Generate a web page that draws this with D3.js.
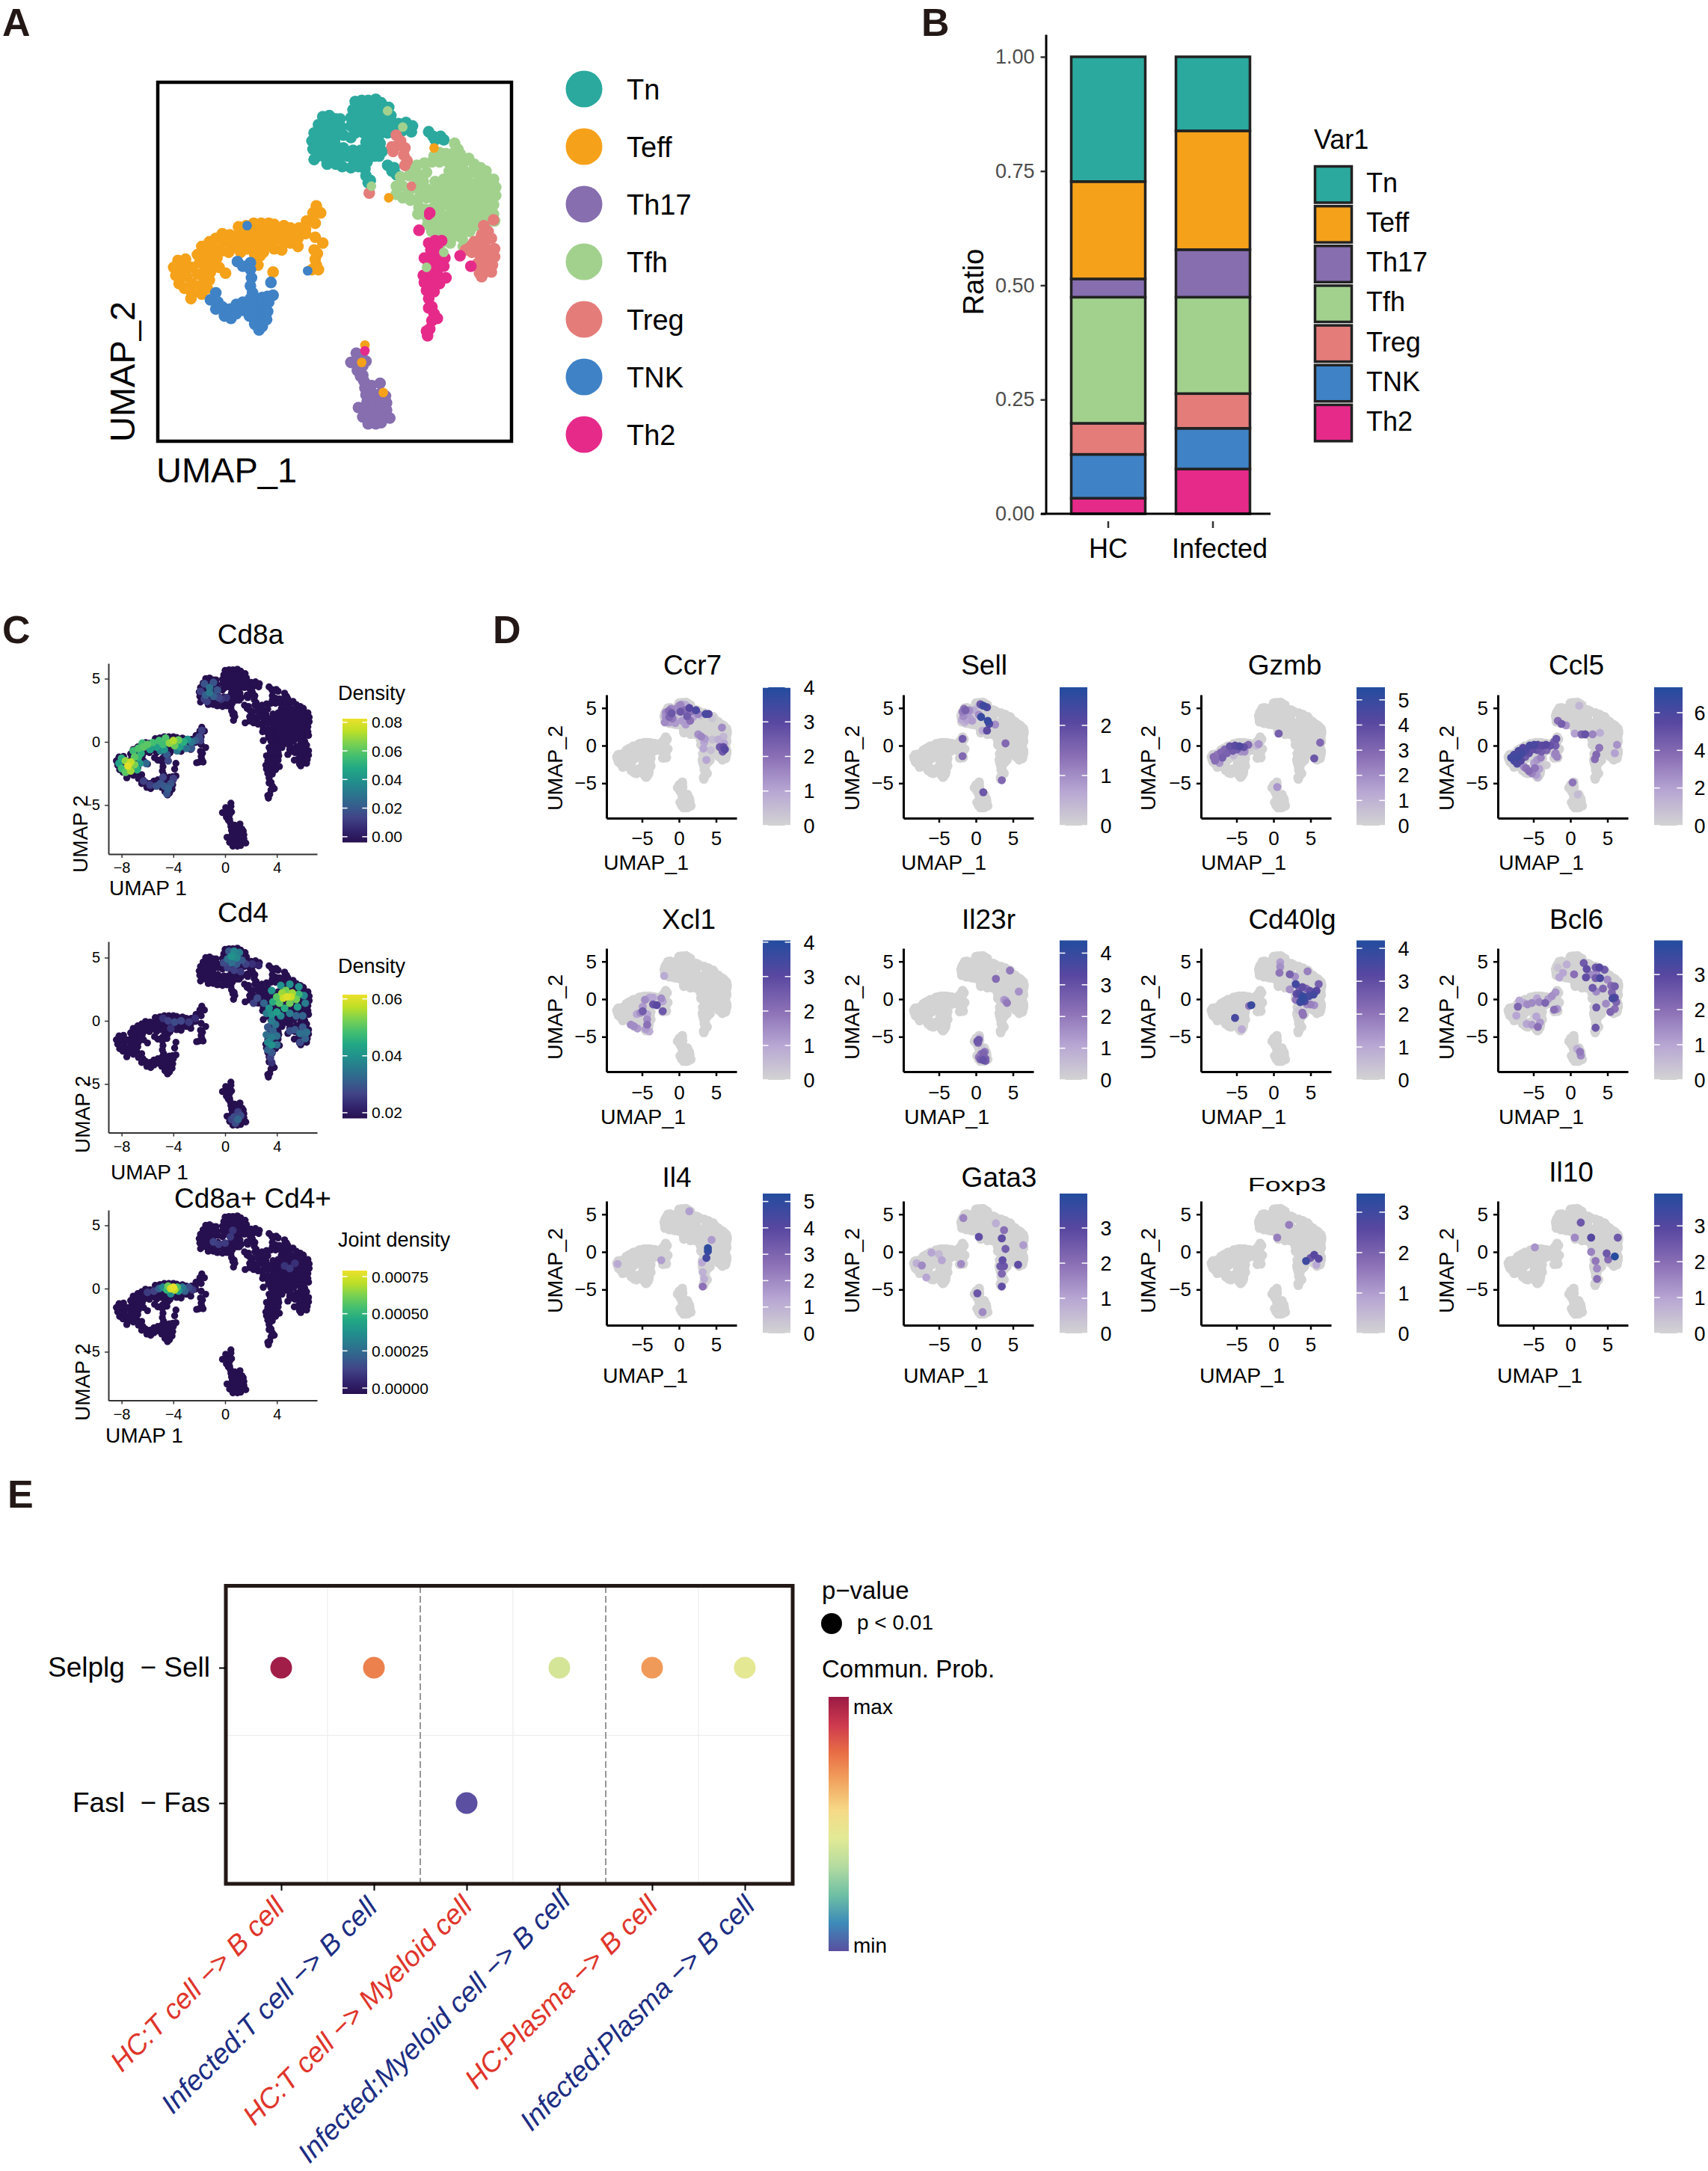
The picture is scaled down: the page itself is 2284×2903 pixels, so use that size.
<!DOCTYPE html>
<html><head><meta charset="utf-8">
<script src="https://cdnjs.cloudflare.com/ajax/libs/d3/7.8.5/d3.min.js"></script>
<style>html,body{margin:0;padding:0;background:#fff}svg{display:block}text{font-family:"Liberation Sans",Arial,sans-serif}</style>
</head><body><svg id="fig" width="2284" height="2903" viewBox="0 0 2284 2903"></svg>
<script>
// ---------- cell types ----------
const cellTypes=["Tn","Teff","Th17","Tfh","Treg","TNK","Th2"];
const cellColors=["#2BA99E","#F5A11A","#866EAF","#A2D18E","#E47C7A","#3F82C6","#E62A8A"];
// ---------- UMAP embedding ----------
const tnPts=[[-1.5,5],[-1.2,5.05],[-0.9,4.9],[-0.7,4.9],[-1.7,4.65],[-1.35,4.7],[-1,4.6],[-0.65,4.55],[-1.9,4.3],[-1.55,4.35],[-1.2,4.3],[-0.85,4.25],[-0.55,4.2],[-2,3.95],[-1.65,4],[-1.3,3.95],[-0.95,3.9],[-1.95,3.6],[-1.6,3.65],[-1.25,3.6],[-0.9,3.55],[-0.55,3.65],[-1.75,3.3],[-1.4,3.25],[-1.05,3.2],[-0.7,3.25],[-0.35,3.3],[-1.9,3.15],[-1.3,2.95],[-0.9,2.95],[-0.6,2.85],[0,5.65],[0.3,5.7],[0.6,5.7],[0.95,5.75],[1.2,5.6],[1.55,5.4],[-0.1,5.3],[0.25,5.35],[0.6,5.35],[0.95,5.35],[1.3,5.25],[1.65,5.05],[-0.2,4.95],[0.15,5],[0.5,5],[0.85,5],[1.2,4.9],[-0.2,4.6],[0.15,4.65],[0.5,4.65],[0.85,4.6],[1.2,4.55],[1.5,4.65],[0,4.3],[0.4,4.3],[0.75,4.25],[1.1,4.2],[-0.2,4.1],[0.5,3.9],[0.85,3.9],[1.15,3.85],[1.25,3.5],[0.95,3.55],[0.6,3.55],[0.25,3.55],[-0.1,3.55],[-0.1,3.2],[0.25,3.2],[0.55,3.2],[0.9,3.3],[1.1,3.3],[1.45,5],[1.7,4.75],[2,4.7],[2.35,4.75],[2.65,4.6],[2.6,4.35],[2.2,4.4],[1.85,4.35],[1.5,4.3],[3.4,4.35],[3.6,4.15],[3.95,4.15],[4.1,4],[3.7,4],[0.15,2.85],[0.45,2.75],[0.55,3.05],[0.5,2.45],[0.6,2.15],[0.7,2.25],[1.5,2.9],[1.7,2.65],[1.9,2.5],[1.8,2.8],[-0.2,2.8]];
const teffPts=[[-8.4,-1.5],[-8.2,-1.2],[-8.3,-1.85],[-8,-1.55],[-7.85,-1.15],[-8.15,-2.2],[-7.8,-1.9],[-7.55,-1.5],[-7.9,-2.4],[-7.55,-2.2],[-7.3,-1.8],[-7.2,-1.3],[-7.55,-2.65],[-7.6,-2.85],[-7.2,-2.3],[-7,-1.95],[-6.95,-1.5],[-6.85,-1.1],[-7.3,-0.95],[-7.1,-0.6],[-6.9,-0.85],[-6.75,-0.4],[-6.5,-0.7],[-6.45,-0.25],[-6.6,-1],[-6.15,-0.05],[-6.1,-0.4],[-6.2,-0.8],[-6.55,-1.35],[-6.4,-1.1],[-5.8,-0.1],[-5.75,-0.45],[-5.5,-0.65],[-5.85,-0.85],[-5.4,0.25],[-5.4,-0.1],[-5.4,-0.4],[-5.05,0.3],[-5.05,0],[-5.1,-0.3],[-4.7,0.4],[-4.7,0.1],[-4.7,-0.2],[-4.35,0.4],[-4.35,0.1],[-4.35,-0.25],[-4.45,-0.6],[-4,0.4],[-4,0.1],[-4,-0.2],[-4.05,-0.55],[-3.75,0.35],[-3.65,0.05],[-3.7,-0.3],[-3.75,-0.7],[-3.3,0.3],[-3.3,0],[-3.35,-0.35],[-3.4,-0.75],[-3,0.2],[-3,-0.1],[-3,-0.45],[-2.6,0.2],[-2.65,-0.25],[-2.65,-0.6],[-2.25,0.5],[-2.3,0.15],[-2.3,-0.05],[-2,0.55],[-1.95,0.85],[-1.6,0.85],[-1.8,1.15],[-1.85,0.4],[-1.85,-0.2],[-1.5,-0.45],[-1.9,-0.75],[-1.75,-0.9],[-1.85,-1.15],[-1.8,-1.4],[-2,-1.6],[-1.7,-1.6],[-6,-1.75],[-3.8,-1.7],[-4.4,-1],[-4.25,-0.85],[-4.5,-1.4],[-4.65,-0.95],[-5.3,-0.85],[-5,-0.7],[-4.75,-0.6],[-6.7,-1.7],[-6.75,-2.05],[-6.85,-2.4],[-7.1,-2.65],[-6.3,-1.5]];
const th17Pts=[[-0.2,-5.6],[0.05,-5.2],[0.3,-5.3],[0.5,-5.55],[0.05,-5.6],[0.35,-5.75],[0.1,-5.95],[0.25,-6.2],[0.35,-6.15],[0.4,-6.4],[0.45,-6.7],[0.75,-6.6],[0.5,-7],[0.8,-6.95],[1.15,-6.5],[1.15,-6.95],[1.4,-7.05],[0.55,-7.3],[0.85,-7.3],[1.15,-7.3],[1.45,-7.35],[0.15,-7.55],[0.45,-7.65],[0.8,-7.65],[1.1,-7.65],[1.45,-7.65],[0.35,-7.95],[0.65,-8],[1,-8],[1.35,-8],[1.6,-8],[0.6,-8.25],[0.95,-8.25],[1.2,-8.2]];
const tfhPts=[[2.5,2.8],[2.85,2.9],[3.2,3],[3.55,3.05],[3.9,3.05],[4.3,3.05],[4.65,3.05],[5,3],[5.25,3.2],[5.5,2.95],[5.8,2.8],[6.05,2.65],[2.1,2.4],[2.5,2.45],[2.9,2.5],[3.3,2.6],[4.35,2.65],[4.7,2.65],[5.05,2.65],[5.4,2.6],[5.75,2.45],[6.1,2.35],[6.4,2.3],[1.9,2],[2.2,2],[2.5,1.8],[2.85,2.1],[3.15,2.2],[3.7,2.2],[4.1,2.3],[4.5,2.3],[4.85,2.3],[5.2,2.25],[5.55,2.1],[5.9,2.05],[6.25,2],[6.5,1.95],[1.9,1.65],[2.2,1.5],[2.55,1.4],[2.9,1.45],[3,1.8],[3.35,1.85],[3.75,1.85],[4.1,1.95],[4.45,1.95],[4.8,1.95],[5.15,1.85],[5.5,1.75],[5.85,1.7],[6.2,1.65],[6.5,1.6],[3.3,1.5],[3.65,1.45],[4,1.5],[4.35,1.55],[4.7,1.6],[5.05,1.5],[5.4,1.4],[5.75,1.35],[6.1,1.3],[6.4,1.2],[2.95,1.1],[3.25,1],[3.6,1.05],[3.95,1.1],[4.3,1.2],[4.65,1.2],[5,1.15],[5.45,1.05],[5.8,0.95],[6.15,0.95],[6.4,0.8],[2.9,0.8],[3.3,0.7],[3.6,0.7],[4,0.75],[4.4,0.8],[4.75,0.85],[5.1,0.85],[5.5,0.7],[5.85,0.6],[6.2,0.6],[6.45,0.5],[3.35,0.35],[3.7,0.4],[4.1,0.45],[4.5,0.5],[4.85,0.5],[5.2,0.45],[5.55,0.3],[6.05,0.3],[3.55,0.05],[3.9,0.1],[4.25,0.15],[4.6,0.15],[4.95,0.1],[5.3,0.05],[3.85,-0.2],[4.2,-0.2],[4.55,-0.15],[4.9,-0.2],[4.05,-0.4],[4.4,-0.45],[5,-0.6],[5.2,-0.7],[3.9,3.45],[4.2,3.4],[4.5,3.4],[4.75,3.6],[4.6,3.85],[4.85,3.4],[3.65,3.3]];
const tregPts=[[6.4,0.55],[5.95,0.3],[6.15,0.05],[5.85,-0.1],[5.5,-0.4],[5.1,-0.75],[5.3,-0.6],[5.7,-0.35],[6,-0.3],[6.3,-0.25],[6.45,-0.7],[6.1,-0.7],[5.75,-0.7],[5.4,-0.85],[6.45,-1.05],[6.15,-1.05],[5.8,-1.1],[6.35,-1.4],[6,-1.4],[5.65,-1.35],[6.3,-1.7],[6,-1.7],[5.75,-1.75],[5.85,-1.9],[1.9,4.2],[2.1,3.95],[1.95,3.75],[2.3,3.65],[1.75,3.5],[2.25,3.35],[2.4,3.1],[2.3,2.9],[1.7,3.7],[0.65,1.7]];
const tnkPts=[[-5.45,-1.25],[-5.2,-1.45],[-4.85,-1.3],[-4.85,-1.6],[-4.8,-1.95],[-4.85,-2.3],[-4.75,-2.6],[-3.9,-2.15],[-3.8,-2.7],[-4.05,-2.75],[-4.3,-2.8],[-4.55,-2.85],[-4.85,-2.85],[-6.45,-2.6],[-6.7,-2.9],[-6.35,-3],[-6.45,-3.3],[-6.15,-3.2],[-6.05,-3.6],[-5.8,-3.3],[-5.75,-3.7],[-5.5,-3.1],[-5.5,-3.5],[-5.2,-3],[-5.2,-3.35],[-4.95,-3.2],[-4.9,-3.6],[-4.6,-3.2],[-4.3,-3.1],[-4,-3],[-4.6,-3.6],[-4.3,-3.5],[-4.05,-3.4],[-4.65,-3.95],[-4.35,-3.9],[-4.1,-3.75],[-4.45,-4.2],[-4.3,-4.05]];
const th2Pts=[[2.95,0.1],[3.45,0.85],[3.4,-0.45],[3.7,-0.35],[4,-0.35],[3.5,-0.75],[3.8,-0.7],[3.2,-1.1],[3.55,-1.05],[3.9,-1.05],[4.15,-1.1],[3.4,-1.4],[3.75,-1.4],[4.1,-1.45],[3.15,-1.85],[3.45,-1.75],[3.8,-1.8],[4.2,-1.95],[3.2,-2.15],[3.55,-2.1],[3.9,-2.2],[3.3,-2.5],[3.65,-2.55],[3.4,-2.85],[3.55,-3.2],[3.4,-3.25],[3.65,-3.5],[3.8,-3.7],[3.55,-3.8],[3.45,-4.15],[3.35,-4.45],[3.3,-4.25],[4.85,-1],[5.35,-1.45]];
const strayCells=[["Tfh",1.5,5.25],["Tfh",2.2,4.55],["Tfh",0.75,2],["Tfh",3.3,-1.5],["Tfh",4.1,-0.85],["Tfh",5,-0.3],["Teff",3.65,3.65],["Teff",1.55,1.5],["Teff",0.45,-4.85],["Teff",0.3,-5.6],["Teff",1.3,-6.9],["Th2",0.45,-5.1],["TNK",-5,0.3],["TNK",-2.2,-1.65],["Th2",3.4,0.75],["Treg",2.6,2.0]];
const clusterPts=[tnPts,teffPts,th17Pts,tfhPts,tregPts,tnkPts,th2Pts];
const allPts=clusterPts.flat().concat(strayCells.map(d=>[d[1],d[2]]));
// ---------- panel B ----------
const groups=["HC","Infected"];
const hcRatio=[0.273,0.213,0.040,0.276,0.068,0.096,0.034];
const infectedRatio=[0.162,0.260,0.104,0.211,0.076,0.089,0.098];
const ratioTicks=[0,0.25,0.5,0.75,1];
// ---------- panel C density overlays [u,v,density] ----------
const cd8aDensity=[[-8.2,-1.7,.045],[-8,-1.3,.05],[-8,-2.1,.055],[-7.7,-1.5,.068],[-7.7,-2.4,.06],[-7.5,-1.9,.08],[-7.3,-1.6,.075],[-7.3,-2.3,.07],[-7,-1.8,.065],[-7,-1.2,.06],[-7.1,-.7,.055],[-6.7,-1.2,.052],[-6.7,-.5,.058],[-6.5,-.9,.05],[-6.3,-.4,.06],[-6.4,-.1,.055],[-6,-.2,.06],[-5.8,-.6,.045],[-5.6,-.05,.056],[-5.3,-.4,.045],[-5.1,.1,.056],[-4.8,-.2,.055],[-4.6,.3,.058],[-4.3,-.1,.068],[-4,.1,.072],[-3.9,-.3,.062],[-3.6,.15,.062],[-3.5,-.4,.045],[-3.2,0,.05],[-2.9,.2,.04],[-2.6,0,.03],[-2.3,.1,.022],[-2,.4,.015],[-1.8,.9,.012],[-6.1,-1.7,.025],[-4.5,-1,.02],[-4.4,-1.5,.015],[-6.3,-3.1,.012],[-5.8,-3.4,.012],[-5.3,-3.5,.018],[-5,-3.3,.018],[-4.7,-3.5,.02],[-4.4,-3.7,.022],[-4.2,-3.3,.018],[-4.5,-4.1,.018],[-4.8,-2.8,.014],[-4,-2.9,.012],[-1.9,4,.012],[-1.6,4.6,.018],[-1.5,3.7,.022],[-1.2,4.3,.028],[-1.2,3.9,.03],[-.9,3.6,.022],[-.9,4.7,.018],[-.6,4.1,.018],[-.5,3.5,.014],[-1.4,3.2,.012],[-1.6,3.4,.012],[-.3,3.4,.01],[.1,3.5,.008],[-6.8,-2.2,.05],[-6.6,-1.7,.042],[-5,-.7,.035],[-4.7,-.6,.04],[-3.7,-.7,.032],[-3,-.5,.028],[-2.6,-.5,.02],[-1.9,.1,.012]];
const cd4Density=[[4.8,1.9,.06],[4.5,1.8,.058],[5.1,1.9,.058],[4.4,2.2,.055],[5.2,2.2,.055],[4.7,2.4,.052],[5.5,1.7,.052],[4,1.9,.05],[4.2,1.4,.05],[5,1.4,.052],[5.7,2.1,.047],[3.7,1.5,.045],[4.6,1,.045],[3.6,2.4,.04],[4.3,2.8,.04],[5,2.9,.04],[5.7,2.7,.04],[6.1,2,.038],[6.2,1.4,.036],[5.6,1.1,.042],[3.4,1,.04],[3.2,.6,.036],[3.6,.5,.04],[4,.7,.042],[4.3,.4,.038],[5,.6,.036],[5.5,.4,.032],[6,.4,.032],[3,1.4,.032],[2.5,1.8,.028],[2.2,1.4,.026],[3.6,0,.036],[3.9,-.3,.034],[3.3,-.5,.03],[3.7,-.8,.032],[3.2,-1.1,.034],[3.6,-1.3,.036],[4,-1.2,.034],[3.3,-1.7,.038],[3.6,-1.9,.04],[4,-1.9,.034],[3.3,-2.3,.032],[3.6,-2.5,.03],[3.5,-2.9,.026],[3.6,-3.3,.024],[6,-.5,.03],[6.3,-.9,.034],[5.8,-1,.034],[6.2,-1.4,.032],[5.8,-1.7,.028],[5.4,-.7,.03],[5,-.8,.028],[.3,5.5,.03],[.7,5.5,.038],[1.1,5.4,.036],[.5,5.1,.04],[.9,5,.038],[.2,4.9,.034],[1.3,4.8,.03],[-.1,4.6,.028],[.5,4.6,.034],[.9,4.5,.03],[1.6,4.5,.026],[2.1,4.5,.024],[.2,4.2,.026],[.7,4,.026],[1.2,3.9,.025],[2.6,4.4,.022],[.7,-7.6,.028],[1,-7.8,.032],[1.2,-7.5,.028],[.8,-8.1,.028],[.5,-7.8,.026],[1,-7.2,.026],[-4.4,0,.026],[-3.9,-.1,.028],[-3.4,0,.027],[-4.8,.2,.024],[-2.8,-.1,.025],[-4.2,-.6,.024],[-2.3,.2,.023]];
const jointDensity=[[-4.2,0,.00075],[-4,.1,.00078],[-3.9,-.1,.0007],[-4.4,.2,.0006],[-4.5,-.1,.0005],[-3.7,.1,.00055],[-3.6,-.2,.0004],[-4.8,.1,.00035],[-4.2,-.4,.00035],[-3.3,.1,.0003],[-3.1,-.2,.00022],[-5.1,0,.00022],[-2.8,.1,.00015],[-2.5,-.1,.0001],[-5.5,-.2,.00012],[-6,-.3,.0001],[-.9,3.7,.00012],[-.5,3.5,.0001],[0,3.6,.0001],[.4,4.1,.00009],[.6,4.6,.00008],[4.6,1.8,.00008],[5,1.6,.00009],[5.4,2,.00007]];
const densityTitles=["Cd8a","Cd4","Cd8a+ Cd4+"];
const densityLegend=["Density","Density","Joint density"];
const densityMax=[0.0825,0.0615,0.00079];
const densityMin=[-0.004,0.018,-0.00004];
const densityTicks=[[0,.02,.04,.06,.08],[.02,.04,.06],[0,.00025,.0005,.00075]];
const densityFormat=[".2f",".2f",".5f"];
// ---------- panel D expression overlays [u,v,value] ----------
const genes=["Ccr7","Sell","Gzmb","Ccl5","Xcl1","Il23r","Cd40lg","Bcl6","Il4","Gata3","Foxp3","Il10"];
const geneMax=[4.0,2.76,5.5,7.35,4.05,4.4,4.24,3.97,5.3,3.98,3.46,3.9];
const geneTicks=[[0,1,2,3,4],[0,1,2],[0,1,2,3,4,5],[0,2,4,6],[0,1,2,3,4],[0,1,2,3,4],[0,1,2,3,4],[0,1,2,3],[0,1,2,3,4,5],[0,1,2,3],[0,1,2,3],[0,1,2,3]];
const ccr7Expr=[[-1.8,4.4,1.5],[-1.4,4.6,2],[-1,4.3,2.6],[-1.7,3.7,1.5],[-1.3,3.8,2.2],[-.9,3.6,1.8],[-1.9,3.1,1.5],[-1.3,3.1,1.2],[-.5,3,1.2],[-.4,4.9,1.5],[0,5.3,1.2],[.5,5.5,.8],[.2,4.5,2.6],[.8,4.7,2],[1.4,5,3],[1.7,4.6,2],[2.3,4.7,3.2],[2.6,4.2,1.6],[3.6,4.2,3.3],[4,4.2,3],[1.1,3.9,2.5],[1.5,3.3,2],[.4,3.3,1.2],[.9,2.8,1.2],[4.5,3.6,.3],[5.8,2.4,1.5],[2.6,1.5,1.4],[3,1.2,1.6],[3.5,.9,1.2],[4.5,.8,.5],[5.5,-.2,2.5],[6,-.2,2.8],[6.2,-.5,3],[5.9,-.8,2.5],[3.7,-1.9,1],[3.3,-.4,1],[-1.8,4,.4],[-.7,4.1,.3],[.5,4,.3],[-.3,4.4,.2],[.7,3.5,.2],[-1.5,4.2,1.3],[-1.9,3.9,1],[-1.1,4.9,1.6],[-.7,4.5,1.2],[-1,3.2,.9],[-.6,3.5,.8],[.2,5.4,1.6],[.9,5.4,.9],[1.2,4.3,1.5],[1.9,3.8,1.1],[2.9,4,.4],[5.3,.8,.8],[6,1.2,.6],[6.1,.3,1],[4.3,-.6,.5],[3.4,.4,1]];
const sellExpr=[[-1.8,4.5,1.2],[-1.4,4.7,1.6],[-1.1,4.2,.8],[-1.7,3.9,1],[-1.2,3.4,.7],[-.5,3.3,.8],[-.3,4.7,.6],[1,5.3,2.4],[1.5,5.1,2.2],[.7,3.8,2.5],[.4,4.1,1],[1.6,3.3,2.5],[.3,5.2,.3],[1.8,2.9,2.2],[2.6,2.8,1],[4,.3,1.5],[-1.8,.9,1.7],[-1.8,-1.4,1.5],[1,-6.2,1.8],[3.5,-4.6,1.5],[.9,2,.6],[1.5,2,2],[-1.6,4.9,1.3],[-1.9,3.4,.6],[-1.5,3.1,.5],[-.9,4.7,1],[-.8,3.7,.7],[.6,5.5,1.8]];
const gzmbExpr=[[-8.1,-1.5,2.8],[-7.9,-2,2.8],[-7.6,-1.2,2.5],[-7.3,-2.3,1.8],[-7.1,-.9,3],[-6.9,-1.6,3.3],[-6.6,-.5,3],[-6.3,-1,3.2],[-5.9,-.1,3.7],[-5.8,-.9,.4],[-5.5,-.7,3.4],[-5.4,-1.3,.8],[-5.2,0,4],[-4.9,-.5,3.4],[-4.6,-.1,4.3],[-4.4,-.8,1.8],[-4,-.2,3.8],[-3.9,-.8,2],[-3.4,.1,3],[-3.1,-.2,.3],[-2,.2,1.8],[-2.3,0,.8],[.7,1.6,3.3],[.5,-5.5,1.8],[5.5,-1.7,3.6],[6.3,.4,3]];
const ccl5Expr=[[-8,-1.6,6.2],[-7.6,-1.2,6],[-7.6,-2,6],[-7.2,-2.4,5.8],[-7.1,-1.5,6.3],[-7,-.7,6],[-6.7,-2,5.7],[-6.5,-1,6.2],[-6.4,-.3,5.5],[-6.1,-1.5,4.6],[-6,-.6,5.8],[-5.6,-1,5.2],[-5.5,0,6],[-5.1,-.5,5.2],[-4.9,.1,6],[-4.5,-.6,4.8],[-4.4,.1,5.4],[-3.9,-.8,4.4],[-3.8,0,5.4],[-3.3,.1,5.5],[-3.2,-.6,4],[-2.7,0,5],[-2.2,.5,4.4],[-1.9,.9,5],[-2,0,4.5],[-2,-1,3],[-1.8,-1.5,3],[-4,-1.6,3],[-4.5,-1.9,2.4],[-4.8,-3,3.5],[-4.2,-3.1,2],[-6,-3,3.6],[-5.6,-3.4,3.8],[-5.2,-3.7,3],[-4.6,-3.9,2.2],[-4.4,-4.2,1],[-6.3,-2.8,2.6],[-4.9,-2.3,2],[-1.7,3.3,3.8],[-1.2,2.9,4.4],[-.6,2.7,2.5],[.6,1.6,2],[1.5,1.5,4.2],[2,1.5,5],[3,1.5,3],[4,1.7,1.5],[3.9,-.3,3.5],[3.5,-1.2,4],[3.3,-1.8,3.8],[6,-1,2],[6.3,.1,2.5],[.3,-4.9,3.5],[1.2,5.3,1.2],[1,-6.5,1],[-3.8,-1.3,.3],[-3.2,-2.6,.2],[-4.1,-2.5,.4],[-2.1,-1.2,2.5]];
const xcl1Expr=[[-6.5,-3.4,1.5],[-6.1,-3.6,1.5],[-5.6,-3.9,1.2],[-5.7,-2,1],[-4.6,-.1,1.5],[-4,.2,1],[-3.5,.2,1],[-3.5,-.7,2.7],[-3,-.8,3],[-2.2,-1.6,2.6],[-2.4,.1,1.5],[-2.2,-.3,1],[-4.9,-1.6,2.5],[-5.2,-1.8,1.5],[-4.3,-3.4,2],[-4.5,-4,1.2],[-4,-4.3,.8],[-4.3,-2.7,1.5],[-2,3.1,.9],[-4.9,-1,1.2],[-4.3,-2,1]];
const il23rExpr=[[.2,-5.6,2.8],[.4,-5.4,2.7],[.3,-5.8,2.4],[.5,-5.1,.5],[.7,-7.3,2],[1,-7.2,2.5],[1.2,-7,2],[.6,-8,2.6],[1,-8.1,3],[1.3,-7.9,2.5],[.8,-7.8,2],[.4,-7.7,2],[1.3,-8.2,2.6],[.8,-6.5,.3],[2.7,2.7,2.3],[4.6,3.8,2],[4,-.2,1.5],[4.2,-.5,2],[5.8,1,1.5],[3.8,-.1,1.2]];
const cd40lgExpr=[[.8,3.5,2],[.9,4.3,1.5],[.9,4.9,1.2],[2.2,3.3,2.5],[2.9,3,1.5],[4.6,3.7,1.8],[3,2,3.6],[3.5,1.5,2.6],[3.9,1.6,3],[4.4,1.4,2.2],[4.9,1.1,3],[3.1,.7,3],[3.5,.7,3.3],[3.9,.4,3.7],[4.3,.3,3.4],[4.8,.4,3.5],[5.4,.6,3.6],[5.8,1.1,3.2],[3.8,-.2,3.7],[4.2,-.3,3.4],[3.6,-.4,3.6],[3.4,-1.5,.3],[3.9,-1.8,2],[5,-.7,1.8],[5.5,-.8,1.5],[4.5,-.7,1.5],[4,-2.1,2],[3,-.1,2],[2.2,1.3,1.5],[-3,-.8,3.8],[-5.2,-2.5,3.5],[-3.3,-.9,2],[4,.1,3.9],[6.1,2,2.5],[-4.3,-4,1]];
const bcl6Expr=[[1.8,4.8,2.5],[2.2,4,2.8],[3.5,3.5,1.5],[2.1,2.9,2.8],[3.4,4.2,2.5],[3.9,4.2,3],[4.6,3.9,2.5],[4,2.8,3.2],[3.4,2.8,2.4],[2.7,3.3,1.5],[5,2.6,1.5],[.5,3.3,2],[-1,3.5,1],[-1.5,2.9,1],[3,1.5,2.5],[3.5,1,1.5],[4.4,1.4,2.2],[5.5,1.8,2],[6,1.7,2.4],[5.6,.9,2.2],[6,.2,3],[5.7,.1,3.3],[6.2,-.4,2.2],[4.8,-.6,1.5],[3.5,-1.1,2.5],[3.4,-3.8,2.6],[6,-1.3,2],[5.4,-1.7,2.2],[1.3,-7,1.8],[1.4,-7.5,1.5],[.9,-6.6,.8],[-7.1,-1,2.2],[-6.9,-.2,1],[-6.3,-.5,1],[-7.3,-2.2,1],[-5.8,-.7,1.5],[-5.2,-.5,1.5],[-4.5,.1,1],[-4.2,-.4,1.5],[-3.4,-.5,2.2],[-3,0,1.2],[-2.5,.4,1.4],[-2.2,-1.4,2],[-2,.9,1.3],[-1.8,-1.3,1.3],[-5.9,-3.3,1],[-5.2,-3.4,1.2],[-4.4,-3.7,2],[-4.6,-2.3,1],[-4.1,-3.1,1.2],[-1.7,4.2,.4],[-.5,4.6,.8]];
const il4Expr=[[4.4,1.6,1.6],[3.1,-1.4,1.2],[3.2,-2.7,1],[3.4,-3.6,1.1],[3.2,-4.6,2.6],[1.4,5.4,1.5],[-8.3,-1.6,1.2],[-2.4,-1.1,1.5],[3.7,-.8,4.5],[3.9,.1,4.8],[3.9,.5,5]];
const gata3Expr=[[-1.7,4.5,1.6],[.4,2,2.8],[3.8,2.9,2],[3.5,1.8,2.8],[4,.4,2.4],[6.4,.9,1.2],[3.6,-1.1,2.8],[3.8,-1.9,2.6],[5.7,-1.7,2.8],[3.5,-2.9,2.2],[3.5,-4.6,2.8],[.2,-5.5,2.6],[.9,-8,1.5],[-7.3,-1.8,1.5],[-6,-.1,1],[-6.7,-3.4,1],[-2,-1.6,1.5],[-4.6,-1.1,1],[2.7,3.8,.8],[3.3,-1.9,2.5],[-8,-1.5,.8],[-5,-.3,.6]];
const foxp3Expr=[[.5,1.9,1.5],[2.1,3.6,1.5],[5.8,-1.7,.8],[5.5,-.4,2.6],[6.1,-.9,2.5],[5,-.8,2.2],[4.4,-1.2,3]];
const il10Expr=[[.6,1.9,1.5],[2.8,1.9,3],[5.1,-1,2],[3.4,-1.2,1.8],[2.8,0,1.6],[4.9,-.2,2.5],[1.4,3.9,2.5],[6.4,1.9,2.5],[3.6,-2.2,1.5],[3.6,-3.6,2],[-4.8,.6,1.3],[6,-.6,3.85]];
const geneExpr=[ccr7Expr,sellExpr,gzmbExpr,ccl5Expr,xcl1Expr,il23rExpr,cd40lgExpr,bcl6Expr,il4Expr,gata3Expr,foxp3Expr,il10Expr];
// ---------- panel E ----------
const pairNames=["HC:T cell \u2212> B cell","Infected:T cell \u2212> B cell","HC:T cell \u2212> Myeloid cell","Infected:Myeloid cell \u2212> B cell","HC:Plasma \u2212> B cell","Infected:Plasma \u2212> B cell"];
const pairCondition=["HC","Infected","HC","Infected","HC","Infected"];
const lrNames=["Selplg  \u2212 Sell","Fasl  \u2212 Fas"];
const commRow=[0,0,1,0,0,0];
const commProb=[0.99,0.74,0.0,0.41,0.69,0.46];
const commRamp=["#5A4FA0","#3C8BB8","#6FC0A4","#B4DBA0","#E2EA95","#F6D987","#F2A560","#E96F45","#CE3A4E","#9B1B46"];

// ---------- helpers ----------
const svg=d3.select("#fig");
const FONT='"Liberation Sans",Arial,sans-serif';
const txt=(x,y,s,size,o={})=>{
  const t=svg.append("text").attr("y",0).attr("dy",".36em").text(s)
    .attr("font-size",size).attr("fill",o.fill||"#000").attr("text-anchor",o.anchor||"start");
  if(o.weight)t.attr("font-weight",o.weight);
  if(o.italic)t.attr("font-style","italic");
  t.attr("transform",`translate(${x},${y})`+(o.rot?` rotate(${o.rot})`:"")+(o.sx?` scale(${o.sx},1)`:""));
  return t;
};
function umapScales(left,right,top,bottom,u0,v0,pu,pv){
  return {x:d3.scaleLinear().domain([(left-u0)/pu,(right-u0)/pu]).range([left,right]),
          y:d3.scaleLinear().domain([(v0-bottom)/pv,(v0-top)/pv]).range([bottom,top])};
}
function drawAxes(sc,o){
  const g=svg.append("g");
  const xa=g.append("g").attr("transform",`translate(0,${sc.y.range()[0]})`)
    .call(d3.axisBottom(sc.x).tickValues(o.xt).tickSize(o.tick).tickPadding(o.padX).tickSizeOuter(0));
  const ya=g.append("g").attr("transform",`translate(${sc.x.range()[0]},0)`)
    .call(d3.axisLeft(sc.y).tickValues(o.yt).tickSize(o.tick).tickPadding(o.padY).tickSizeOuter(0));
  [xa,ya].forEach(a=>{
    a.attr("font-family",FONT).attr("font-size",o.font);
    a.select(".domain").attr("stroke",o.color).attr("stroke-width",o.w);
    a.selectAll(".tick line").attr("stroke",o.color).attr("stroke-width",Math.max(1.5,o.w-.5));
    a.selectAll("text").attr("fill","#000");
  });
}
function dots(data,sc,r,fill){
  svg.append("g").selectAll("circle").data(data).join("circle")
    .attr("cx",d=>sc.x(d[0])).attr("cy",d=>sc.y(d[1])).attr("r",r).attr("fill",fill);
}
function gradient(id,stops){
  const defs=svg.select("defs").empty()?svg.append("defs"):svg.select("defs");
  const g=defs.append("linearGradient").attr("id",id).attr("x1",0).attr("x2",0).attr("y1",1).attr("y2",0);
  stops.forEach((c,i)=>g.append("stop").attr("offset",i/(stops.length-1)).attr("stop-color",c));
}
function colorBar(x0,x1,scale,fillId,ticks,fmt,labelX,font,anchor){
  const [b,t]=scale.range();
  svg.append("rect").attr("x",x0).attr("width",x1-x0).attr("y",t).attr("height",b-t).attr("fill",`url(#${fillId})`);
  const w=(x1-x0)/5, g=svg.append("g");
  ticks.forEach(v=>{
    [[x0,x0+w],[x1-w,x1]].forEach(p=>g.append("line").attr("x1",p[0]).attr("x2",p[1]).attr("y1",scale(v)).attr("y2",scale(v)).attr("stroke","#fff").attr("stroke-width",1.5));
    txt(labelX,scale(v),fmt(v),font,{anchor:anchor||"start"});
  });
}
// ---------- panel letters ----------
[["A",3,29],["B",1232,29],["C",3,841],["D",659,841],["E",10,1997]].forEach(d=>txt(d[1],d[2],d[0],52,{weight:"bold",fill:"#231815"}));

// ---------- panel A ----------
(function(){
  const sc=umapScales(211,684,110,590,475,311,28.9,31);
  svg.append("rect").attr("x",211).attr("y",110).attr("width",473).attr("height",480).attr("fill","none").attr("stroke","#000").attr("stroke-width",4.5);
  clusterPts.forEach((pts,i)=>dots(pts,sc,7.8,cellColors[i]));
  svg.append("g").selectAll("circle").data(strayCells).join("circle")
    .attr("cx",d=>sc.x(d[1])).attr("cy",d=>sc.y(d[2])).attr("r",6.4).attr("fill",d=>cellColors[cellTypes.indexOf(d[0])]);
  const ly=d3.scalePoint().domain(cellTypes).range([119,581]);
  svg.append("g").selectAll("circle").data(cellTypes).join("circle").attr("cx",781).attr("cy",d=>ly(d)).attr("r",24.5).attr("fill",(d,i)=>cellColors[i]);
  cellTypes.forEach(d=>txt(838,ly(d),d,38));
  txt(209,628,"UMAP_1",47);
  txt(163,497,"UMAP_2",47,{rot:-90,anchor:"middle"});
})();

// ---------- panel B ----------
(function(){
  const rows=groups.map((g,i)=>{const r={group:g};cellTypes.forEach((c,j)=>r[c]=(i?infectedRatio:hcRatio)[j]);return r;});
  const keys=cellTypes.slice().reverse();
  const series=d3.stack().keys(keys)(rows);
  const x=d3.scaleBand().domain(groups).range([1412,1692]).paddingInner(.293).paddingOuter(.1465);
  const y=d3.scaleLinear().domain([0,1.049]).range([687,46]);
  series.forEach(s=>{
    svg.append("g").selectAll("rect").data(s).join("rect")
      .attr("x",d=>x(d.data.group)).attr("width",x.bandwidth())
      .attr("y",d=>y(d[1])).attr("height",d=>y(d[0])-y(d[1]))
      .attr("fill",cellColors[cellTypes.indexOf(s.key)]).attr("stroke","#222").attr("stroke-width",3.5);
  });
  const ya=svg.append("g").attr("transform","translate(1398.5,0)").call(d3.axisLeft(y).tickValues(ratioTicks).tickFormat(d3.format(".2f")).tickSize(7).tickPadding(8).tickSizeOuter(0));
  ya.attr("font-family",FONT).attr("font-size",27);
  ya.selectAll("text").attr("fill","#4d4d4d");
  ya.select(".domain").attr("stroke","#000").attr("stroke-width",3);
  ya.selectAll(".tick line").attr("stroke","#333").attr("stroke-width",2.5);
  svg.append("line").attr("x1",1392).attr("x2",1699).attr("y1",687).attr("y2",687).attr("stroke","#000").attr("stroke-width",3);
  const xa=svg.append("g").attr("transform","translate(0,687)").call(d3.axisBottom(x).tickSize(19).tickPadding(0).tickSizeOuter(0));
  xa.select(".domain").remove();
  xa.selectAll(".tick line").attr("y1",10).attr("stroke","#333").attr("stroke-width",2.5);
  xa.selectAll("text").attr("font-family",FONT).attr("font-size",36).attr("fill","#000").attr("y",46).attr("dy",".36em").attr("dx",(d,i)=>i?9:0);
  txt(1301,377,"Ratio",38,{rot:-90,anchor:"middle"});
  txt(1757,186,"Var1",36);
  const ly=d3.scaleBand().domain(cellTypes).range([220,592]);
  cellTypes.forEach((c,i)=>{
    svg.append("rect").attr("x",1758.5).attr("y",ly(c)+2.5).attr("width",49).attr("height",48.5).attr("fill",cellColors[i]).attr("stroke","#222").attr("stroke-width",3.5);
    txt(1827,ly(c)+24,c,36);
  });
})();

// ---------- panel C ----------
(function(){
  const tops=[887,1259,1618],bottoms=[1142,1514.6,1872.6],zeros=[992,1365,1723];
  const overlays=[cd8aDensity,cd4Density,jointDensity];
  const bar=[[961,1126.5],[1330,1495.5],[1699,1864]];
  const titleX=[335,325,338],titleY=[848,1220,1602];
  const xlX=[146,148,141],xlY=[1187,1567,1919],ylX=[107,110,110],ylY=[1115,1490,1848];
  const legX=[452,452,452],legY=[926,1291.6,1657];
  const stops=d3.range(0,1.001,.1).map(t=>d3.interpolateViridis(t));
  stops[0]="#27104f";stops[1]="#33256f";stops[10]="#ece12c";
  gradient("viri",stops);
  overlays.forEach((ov,i)=>{
    const sc=umapScales(145,424,tops[i],bottoms[i],301,zeros[i],17.3,16.9);
    const col=d3.scaleLinear().domain(d3.range(11).map(k=>densityMin[i]+(densityMax[i]-densityMin[i])*k/10)).range(stops).clamp(true);
    drawAxes(sc,{xt:[-8,-4,0,4],yt:[-5,0,5],tick:5,padX:6,padY:6,font:20,color:"#333",w:2});
    dots(allPts,sc,4.7,col(densityMin[i]));
    svg.append("g").selectAll("circle").data(ov.slice().sort((a,b)=>a[2]-b[2])).join("circle")
      .attr("cx",d=>sc.x(d[0])).attr("cy",d=>sc.y(d[1])).attr("r",5.2).attr("fill",d=>col(d[2]));
    txt(titleX[i],titleY[i],densityTitles[i],37,{anchor:"middle"});
    txt(xlX[i],xlY[i],"UMAP 1",28);
    txt(ylX[i],ylY[i],"UMAP 2",28,{rot:-90,anchor:"middle"});
    txt(legX[i],legY[i],densityLegend[i],27);
    const cs=d3.scaleLinear().domain([densityMin[i],densityMax[i]]).range([bar[i][1],bar[i][0]]);
    colorBar(458,491,cs,"viri",densityTicks[i],d3.format(densityFormat[i]),497,21);
  });
})();

// ---------- panel D ----------
(function(){
  const zeroX=[908,1305,1703,2100],barX=[[1020,1057],[1417,1454],[1814,1852],[2212,2250]];
  const labX=[1082,1479,1877,2273];
  const rows=[{z:997,top:929,bot:1094,b0:1104,b1:919,tick:1122,xl:1153,yl:1027},
              {z:1336,top:1268,bot:1433,b0:1444,b1:1257.5,tick:1461.5,xl:1493,yl:1360},
              {z:1674,top:1606,bot:1772,b0:1783,b1:1596,tick:1799,xl:1839,yl:1699}];
  const titleX=[926,1316,1718,2108,921,1322,1728,2108,905,1336,1721,2101];
  const titleY=[889,889,889,889,1229,1229,1229,1229,1574,1574,1584,1567];
  const xlabX=[807,1205,1606,2004,803,1209,1606,2004,806,1208,1604,2002];
  const ylabX=[742,1139,1535,1934];
  const ramp=["#d3d3d3","#b7a6d3","#8a6fb5","#5847a0","#234c9e"];
  gradient("purp",ramp);
  genes.forEach((g,i)=>{
    const c=i%4,r=Math.floor(i/4),R=rows[r],x0=zeroX[c];
    const sc=umapScales(x0-97,x0+77,R.top,R.bot,x0,R.z,9.9,10.06);
    const col=d3.scaleLinear().domain([0,.25,.5,.75,1].map(t=>t*geneMax[i])).range(ramp);
    drawAxes(sc,{xt:[-5,0,5],yt:[-5,0,5],tick:6,padX:R.tick-R.bot-16,padY:7,font:26,color:"#000",w:3});
    dots(allPts,sc,6.3,"#d3d3d3");
    svg.append("g").selectAll("circle").data(geneExpr[i].slice().sort((a,b)=>a[2]-b[2])).join("circle")
      .attr("cx",d=>sc.x(d[0])).attr("cy",d=>sc.y(d[1])).attr("r",5.4).attr("fill",d=>col(d[2]));
    if(g==="Foxp3")txt(titleX[i],titleY[i],g,26,{anchor:"middle",sx:1.45});
    else txt(titleX[i],titleY[i],g,37,{anchor:"middle"});
    txt(xlabX[i],R.xl,"UMAP_1",28.5);
    txt(ylabX[c],R.yl,"UMAP_2",28.5,{rot:-90,anchor:"middle"});
    const cs=d3.scaleLinear().domain([0,geneMax[i]]).range([R.b0,R.b1]);
    colorBar(barX[c][0],barX[c][1],cs,"purp",geneTicks[i],d3.format("d"),labX[c],27,"middle");
  });
})();

// ---------- panel E ----------
(function(){
  const x=d3.scalePoint().domain(pairNames).range([376,996]);
  const y=d3.scalePoint().domain(lrNames).range([2230,2411]);
  const step=x.step();
  const g=svg.append("g");
  [0.5,2.5,4.5].forEach(k=>g.append("line").attr("x1",x(pairNames[0])+k*step).attr("x2",x(pairNames[0])+k*step).attr("y1",2121).attr("y2",2519).attr("stroke","#ececec").attr("stroke-width",1.2));
  const midY=(y(lrNames[0])+y(lrNames[1]))/2;
  g.append("line").attr("x1",302).attr("x2",1060).attr("y1",midY).attr("y2",midY).attr("stroke","#ececec").attr("stroke-width",1.2);
  [1.5,3.5].forEach(k=>g.append("line").attr("x1",x(pairNames[0])+k*step).attr("x2",x(pairNames[0])+k*step).attr("y1",2121).attr("y2",2519).attr("stroke","#8c8c8c").attr("stroke-width",1.8).attr("stroke-dasharray","9,4"));
  svg.append("rect").attr("x",302).attr("y",2120.5).attr("width",758).attr("height",398.5).attr("fill","none").attr("stroke","#231815").attr("stroke-width",5);
  const col=d3.scaleLinear().domain(commRamp.map((c,i)=>i/(commRamp.length-1))).range(commRamp);
  svg.append("g").selectAll("circle").data(pairNames).join("circle")
    .attr("cx",d=>x(d)).attr("cy",(d,i)=>y(lrNames[commRow[i]])).attr("r",14.5).attr("fill",(d,i)=>col(commProb[i]));
  const xa=svg.append("g").attr("transform","translate(0,2519)").call(d3.axisBottom(x).tickSize(9).tickFormat("").tickSizeOuter(0));
  xa.select(".domain").remove();xa.selectAll(".tick line").attr("stroke","#000").attr("stroke-width",2);
  const ya=svg.append("g").attr("transform","translate(302,0)").call(d3.axisLeft(y).tickSize(9).tickPadding(12).tickSizeOuter(0));
  ya.select(".domain").remove();ya.selectAll(".tick line").attr("stroke","#000").attr("stroke-width",2);
  ya.selectAll("text").attr("font-family",FONT).attr("font-size",37).attr("fill","#000").style("white-space","pre");
  const nudgeX=[-6,-6,-3,4,-3,3],nudgeY=[2,2,0,-7,0,0];
  pairNames.forEach((p,i)=>txt(x(p)+3+nudgeX[i],2541+nudgeY[i],p,37.5,{anchor:"end",rot:-45,italic:true,fill:pairCondition[i]==="HC"?"#E0352B":"#1C2D83"}));
  txt(1099,2126,"p\u2212value",33);
  svg.append("circle").attr("cx",1112).attr("cy",2171).attr("r",14).attr("fill","#000");
  txt(1146,2169,"p < 0.01",28);
  txt(1099,2231,"Commun. Prob.",33);
  gradient("spec",commRamp);
  svg.append("rect").attr("x",1108).attr("y",2269).attr("width",27).attr("height",340).attr("fill","url(#spec)");
  txt(1141,2282,"max",28);txt(1141,2601,"min",28);
})();
</script></body></html>
